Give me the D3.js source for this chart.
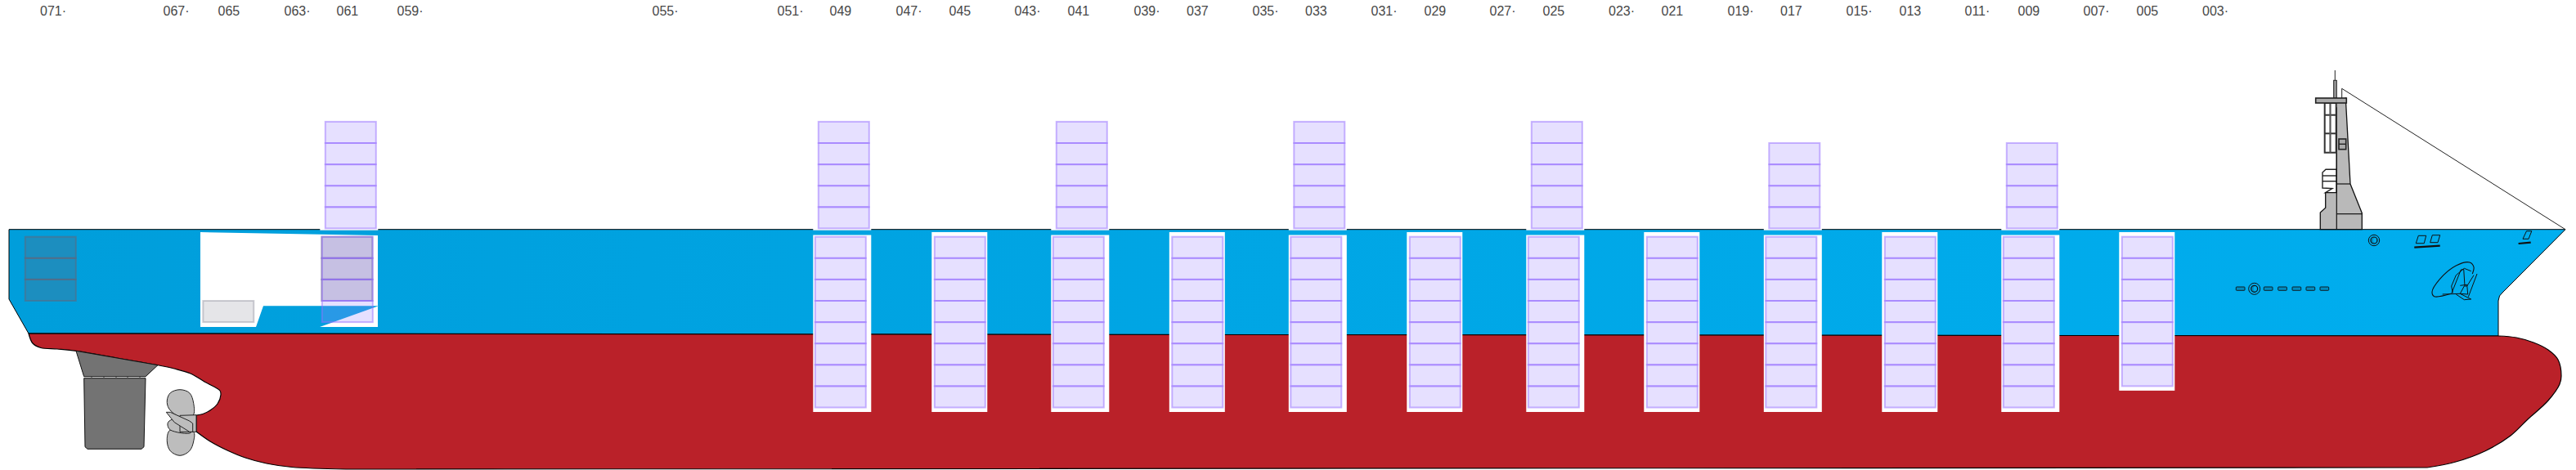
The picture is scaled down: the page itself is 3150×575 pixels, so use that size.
<!DOCTYPE html>
<html>
<head>
<meta charset="utf-8">
<script src="https://cdn.jsdelivr.net/npm/d3@7"></script>
<style>
    html, body { margin: 0; padding: 0; background: #fff; }
    svg { display: block; }
    .bay-axis text { font-family: "Liberation Sans", sans-serif; font-size: 16px; fill: #474747; }
</style>
</head>
<body>
<div id="ship"></div>
<script>
// bay labels along the top and where each one sits along the ship
let bayLabels = ["071·", "067·", "065", "063·", "061", "059·", "055·", "051·", "049", "047·", "045", "043·", "041", "039·", "037",
    "035·", "033", "031·", "029", "027·", "025", "023·", "021", "019·", "017", "015·", "013", "011·", "009", "007·", "005", "003·"];
let bayStart = [48.5, 199, 266, 347, 411, 485, 797, 950, 1014, 1095, 1160, 1240, 1305, 1386, 1450.5,
    1531, 1595.5, 1676, 1741, 1821, 1886, 1966.5, 2031, 2112, 2176.5, 2257, 2322, 2402, 2467, 2547, 2612, 2692.5];

// containers per bay
let deckBays = ["061", "049", "041", "033", "025", "017", "009"];
let deckTiers = [5, 5, 5, 5, 5, 4, 4];
let holdBays = ["061", "049", "045", "041", "037", "033", "029", "025", "021", "017", "013", "009", "005"];
let holdTiers = [4, 8, 8, 8, 8, 8, 8, 8, 8, 8, 8, 8, 7];
let greyBays = ["063", "063", "063", "061", "061", "061", "065"];
let greyTiers = [0, 1, 2, 0, 1, 2, 3];

// ship outlines, in drawing units along / down the ship
let upperHull = [[11, 280.7], [3137, 280.7], [3060, 358], [3056.5, 362], [3055, 368], [3055, 411], [35, 408], [11, 366]];
let lowerHull = [[35, 408], [35, 408], [40, 420], [50, 425.5], [70, 427], [93, 429.3], [143, 438], [193, 446.7], [213, 451], [233, 457], [250, 467],
    [269, 478], [270, 483], [266, 494], [257, 502], [248, 506.5], [240, 508], [240, 508], [240, 528], [240, 528], [257, 540], [278, 551], [300, 560],
    [326, 567], [357, 571.5], [423, 574], [423, 574], [2968, 572], [2968, 572], [3003, 565], [3039, 551.7], [3070, 533], [3091, 513], [3116, 490], [3130, 470],
    [3132, 460], [3128, 440], [3116, 428], [3098, 419], [3077, 413], [3055, 411], [3055, 411]];
let sternCut = [[245, 284], [462, 288], [462, 400], [391, 400], [463, 374.3], [322, 374.3], [313, 400], [245, 400]];
let skeg = [[93, 429.3], [143, 438], [193, 446.7], [178, 460.7], [102.7, 460.7]];
let rudder = [[102.7, 462.7], [178, 462.7], [176, 546.7], [173, 549.3], [107, 549.3], [104, 546.7]];
let rudderTicks = [112, 127, 142, 156, 171];
let bladeUp = [[220, 476.7], [231.7, 480.7], [236.7, 493.3], [236, 508.3], [220, 510], [206.7, 500], [204.3, 490], [208.3, 480.7]];
let bladeDown = [[236.7, 528.3], [236.7, 540], [231.7, 551.7], [220, 557.3], [208.3, 551.7], [204.3, 540], [207.3, 526.7], [220, 526]];
let bladeMid = [[206, 516], [205, 520], [208.3, 526], [233.3, 529.3], [228, 518], [212, 513]];
let hub = [[220, 508.3], [240, 507.7], [240, 528.3], [220, 528.3]];
let bladeFront = [[203.3, 504.3], [208.3, 504.3], [231.7, 515], [235.7, 518], [235.7, 528.3], [231.7, 528.3], [213.3, 516.7]];

let towerBody = [[2837.3, 280.7], [2837.3, 260], [2843.7, 254.3], [2843.7, 235.7], [2857.3, 235.7], [2857.3, 132], [2853.3, 126.7], [2868.3, 120],
    [2874, 225], [2888.3, 260.7], [2888.3, 280.7]];
let towerLines = [[[2857.3, 132], [2857.3, 280.7]], [[2857.3, 225], [2874, 225]], [[2857.3, 261.7], [2888.3, 261.7]]];
let wing = [[2843.7, 235.7], [2852, 230.5], [2840, 230], [2840, 211], [2844, 207.3], [2857.3, 207.3], [2857.3, 235.7]];
let wingBands = [215, 221.7];
let windowRows = [126, 140.7, 163.3, 186.7];
let windowCols = [2842.7, 2849.5, 2856.7];
let stay = [[2863.7, 120], [2863.7, 108.3], [3137, 280.7]];
let portholes = [2734.3, 2768.3, 2785.7, 2803, 2820, 2837];
let hatches = [
    [[2954.3, 297.7], [2957.3, 288.3], [2966.7, 288.3], [2964.3, 297.7]],
    [[2971.7, 296.7], [2974.3, 287.7], [2983.7, 287.7], [2981, 296.7]],
    [[3085, 292.3], [3089.5, 282.7], [3095.8, 282.7], [3092, 292.3]]
];
let hatchRails = [[[2952.3, 302.7], [2983.7, 300.7]], [[3079.6, 298], [3094.7, 296.7]]];
let anchorOval = [[2974, 357.3], [2983.3, 341.7], [3003.3, 325], [3020, 321], [3025, 326.7], [3023.3, 335]];
let anchorBase = [[2974, 357.3], [2976.7, 362.7], [2996.7, 359.3]];
let anchorLines = [
    [[3021.7, 331.7], [3013.3, 328.3], [3003.3, 336.7], [2997.7, 350], [2999.3, 358.3]],
    [[2997.7, 359.3], [3009.3, 330], [3012.7, 329.3], [3014, 350]],
    [[3029, 335], [3018.3, 363.3]],
    [[3025, 336.7], [3016.7, 350], [3013.3, 350], [3008.3, 359.3]],
    [[3008.3, 349.3], [3016.7, 348.3], [3017.7, 360], [3008.3, 359.3]],
    [[2986.7, 360], [3008.3, 359.3], [3021.7, 366], [3013.3, 366.7], [3003.3, 360]]
];

const width = 3150, height = 575;

let svg = d3.select("#ship").append("svg")
    .attr("width", width)
    .attr("height", height);

let x = d3.scaleLinear().domain([0, 3150]).range([0, width]);
let y = d3.scaleLinear().domain([0, 575]).range([0, height]);

// labels start left of the bay they name, the digits are 26.7 wide
let bayScale = d3.scaleOrdinal(bayLabels, bayStart.map(d => x(d)));
let bayCentre = function(bay) {
    return bayScale(bay) + 13.3;
};

// one tier step is the same above and below deck
const tierStep = 26.1;
let deckTierY = d3.scaleLinear().domain([0, 5]).range([y(279.4), y(279.4) - 5 * tierStep]);
let holdTierY = d3.scaleLinear().domain([0, 8]).range([y(289.7), y(289.7) + 8 * tierStep]);

let straight = d3.line().x(d => x(d[0])).y(d => y(d[1]));
let smooth = d3.line().x(d => x(d[0])).y(d => y(d[1])).curve(d3.curveCatmullRom.alpha(0.5));
let smoothClosed = d3.line().x(d => x(d[0])).y(d => y(d[1])).curve(d3.curveCatmullRomClosed.alpha(0.5));

let defs = svg.append("defs");
let grad = defs.append("linearGradient").attr("id", "hullBlue");
grad.append("stop").attr("offset", "0%").attr("stop-color", "#009edb");
grad.append("stop").attr("offset", "100%").attr("stop-color", "#00aeef");

// hull
svg.append("path")
    .attr("d", straight(upperHull) + "Z")
    .attr("fill", "url(#hullBlue)")
    .attr("stroke", "#000")
    .attr("stroke-width", 1);

svg.append("path")
    .attr("d", smooth(lowerHull) + "Z")
    .attr("fill", "#ba2129")
    .attr("stroke", "#000")
    .attr("stroke-width", 1.2);

svg.append("path")
    .attr("d", straight(sternCut) + "Z")
    .attr("fill", "#fff");

// rudder and skeg
svg.append("path").attr("d", straight(skeg) + "Z")
    .attr("fill", "#737373").attr("stroke", "#111").attr("stroke-width", 1);
svg.append("path").attr("d", straight(rudder) + "Z")
    .attr("fill", "#737373").attr("stroke", "#111").attr("stroke-width", 1);
svg.selectAll(".rudder-tick")
    .data(rudderTicks)
    .enter().append("line")
    .attr("class", "rudder-tick")
    .attr("x1", d => x(d)).attr("x2", d => x(d))
    .attr("y1", y(460.7)).attr("y2", y(462.7))
    .attr("stroke", "#444");

// propeller
[bladeUp, bladeDown, bladeMid].forEach(function(blade) {
    svg.append("path").attr("d", smoothClosed(blade))
        .attr("fill", "#bdbdbd").attr("stroke", "#222").attr("stroke-width", 1);
});
svg.append("path").attr("d", straight(hub) + "Z")
    .attr("fill", "#bdbdbd").attr("stroke", "#222").attr("stroke-width", 1);
svg.append("path").attr("d", straight(bladeFront) + "Z")
    .attr("fill", "#bdbdbd").attr("stroke", "#222").attr("stroke-width", 1);

// white cut outs behind the stacks
let holdData = holdBays.map((bay, i) => ({bay: bay, tiers: holdTiers[i], wide: deckBays.includes(bay)}));
let deckData = deckBays.map((bay, i) => ({bay: bay, tiers: deckTiers[i]}));

svg.selectAll(".hold-back")
    .data(holdData.filter(d => d.bay !== "061"))
    .enter().append("rect")
    .attr("class", "hold-back")
    .attr("x", d => bayCentre(d.bay) - (d.wide ? 33 : 34))
    .attr("width", d => d.wide ? 71 : 68)
    .attr("y", d => y(d.wide ? 287.5 : 284))
    .attr("height", d => holdTierY(d.tiers) - y(d.wide ? 287.5 : 284) + 5.5)
    .attr("fill", "#fff");

svg.selectAll(".deck-back")
    .data(deckData)
    .enter().append("rect")
    .attr("class", "deck-back")
    .attr("x", d => bayCentre(d.bay) - 33)
    .attr("width", 71)
    .attr("y", y(270))
    .attr("height", y(281.7) - y(270))
    .attr("fill", "#fff");

// grey containers
svg.selectAll(".grey-box")
    .data(greyBays.map((bay, i) => ({bay: bay, tier: greyTiers[i]})))
    .enter().append("rect")
    .attr("class", "grey-box")
    .attr("x", d => bayCentre(d.bay) - 31)
    .attr("width", 62)
    .attr("y", d => holdTierY(d.tier))
    .attr("height", tierStep)
    .attr("fill", "#646478")
    .attr("fill-opacity", d => d.bay === "065" ? 0.17 : 0.28)
    .attr("stroke", "#646478")
    .attr("stroke-opacity", d => d.bay === "065" ? 0.3 : 0.5)
    .attr("stroke-width", 2);

// purple containers
function drawStack(stack, tierY, offset) {
    let boxes = [];
    stack.forEach(function(s) {
        d3.range(s.tiers).forEach(t => boxes.push({bay: s.bay, tier: t}));
    });
    svg.append("g").selectAll("rect")
        .data(boxes)
        .enter().append("rect")
        .attr("x", d => bayCentre(d.bay) + offset - 31)
        .attr("width", 62)
        .attr("y", d => Math.min(tierY(d.tier), tierY(d.tier + 1)))
        .attr("height", tierStep)
        .attr("fill", "#a089ff")
        .attr("fill-opacity", 0.26)
        .attr("stroke", "#966eff")
        .attr("stroke-opacity", 0.5)
        .attr("stroke-width", 2);
}
drawStack(holdData, holdTierY, 0.5);
drawStack(deckData, deckTierY, 4.5);

// tower
svg.append("path").attr("d", straight(stay))
    .attr("fill", "none").attr("stroke", "#222").attr("stroke-width", 1);
svg.append("line")
    .attr("x1", x(2855.3)).attr("x2", x(2855.3)).attr("y1", y(86)).attr("y2", y(98.3))
    .attr("stroke", "#222");
svg.append("rect")
    .attr("x", x(2853.7)).attr("width", x(2857.3) - x(2853.7))
    .attr("y", y(98.3)).attr("height", y(120) - y(98.3))
    .attr("fill", "#999").attr("stroke", "#222").attr("stroke-width", 1);
svg.append("path").attr("d", straight(wing) + "Z")
    .attr("fill", "#fff").attr("stroke", "#222").attr("stroke-width", 1.4);
svg.selectAll(".wing-band")
    .data(wingBands)
    .enter().append("line")
    .attr("class", "wing-band")
    .attr("x1", x(2840)).attr("x2", x(2857.3))
    .attr("y1", d => y(d)).attr("y2", d => y(d))
    .attr("stroke", "#222").attr("stroke-width", 1.4);
svg.append("path").attr("d", straight(towerBody) + "Z")
    .attr("fill", "#b9b9b9").attr("stroke", "#111").attr("stroke-width", 1.3);
towerLines.forEach(function(l) {
    svg.append("path").attr("d", straight(l)).attr("stroke", "#111").attr("stroke-width", 1.2);
});
svg.append("rect")
    .attr("x", x(2842.7)).attr("width", x(2856.7) - x(2842.7))
    .attr("y", y(126)).attr("height", y(186.7) - y(126))
    .attr("fill", "#fff").attr("stroke", "#333").attr("stroke-width", 2);
windowRows.slice(1, -1).forEach(function(r) {
    svg.append("line").attr("x1", x(2842.7)).attr("x2", x(2856.7)).attr("y1", y(r)).attr("y2", y(r))
        .attr("stroke", "#333").attr("stroke-width", 2);
});
svg.append("line").attr("x1", x(windowCols[1])).attr("x2", x(windowCols[1])).attr("y1", y(126)).attr("y2", y(186.7))
    .attr("stroke", "#555").attr("stroke-width", 2.2);
svg.append("rect")
    .attr("x", x(2831.7)).attr("width", x(2869.3) - x(2831.7))
    .attr("y", y(120)).attr("height", y(126) - y(120))
    .attr("fill", "#aaa").attr("stroke", "#222").attr("stroke-width", 1.6);
svg.append("rect")
    .attr("x", x(2860)).attr("width", x(2868.7) - x(2860))
    .attr("y", y(170)).attr("height", y(182.7) - y(170))
    .attr("fill", "#aaa").attr("stroke", "#222").attr("stroke-width", 1.6);
svg.append("line").attr("x1", x(2860)).attr("x2", x(2868.7)).attr("y1", y(176.3)).attr("y2", y(176.3))
    .attr("stroke", "#222").attr("stroke-width", 1.4);

// deck details on the bow
svg.selectAll(".porthole")
    .data(portholes)
    .enter().append("rect")
    .attr("class", "porthole")
    .attr("x", d => x(d)).attr("width", 10.7)
    .attr("y", y(351)).attr("height", 4.3)
    .attr("rx", 0.8)
    .attr("fill", "#008cc0").attr("stroke", "#111").attr("stroke-width", 0.9);

[[2756.7, 353.3, 7, 4], [2903, 294, 6.7, 4]].forEach(function(c) {
    svg.append("circle").attr("cx", x(c[0])).attr("cy", y(c[1])).attr("r", c[2])
        .attr("fill", "none").attr("stroke", "#111").attr("stroke-width", 1);
    svg.append("circle").attr("cx", x(c[0])).attr("cy", y(c[1])).attr("r", c[3])
        .attr("fill", "#008cc0").attr("stroke", "#111").attr("stroke-width", 1.2);
    svg.append("ellipse").attr("cx", x(c[0]) + 1).attr("cy", y(c[1])).attr("rx", 2).attr("ry", 3)
        .attr("fill", "#00aeef").attr("stroke", "none");
});

hatches.forEach(function(h) {
    svg.append("path").attr("d", straight(h) + "Z")
        .attr("fill", "none").attr("stroke", "#111").attr("stroke-width", 1);
});
hatchRails.forEach(function(r) {
    svg.append("path").attr("d", straight(r)).attr("stroke", "#111").attr("stroke-width", 2.2);
});

svg.append("path").attr("d", smooth(anchorBase.slice().reverse().concat(anchorOval.slice(1))))
    .attr("fill", "none").attr("stroke", "#111").attr("stroke-width", 1.1);
anchorLines.forEach(function(l) {
    svg.append("path").attr("d", straight(l))
        .attr("fill", "none").attr("stroke", "#111").attr("stroke-width", 1);
});

// bay labels
let bayAxis = d3.axisTop(bayScale).tickValues(bayLabels).tickSize(0).tickPadding(0);
svg.append("g")
    .attr("class", "bay-axis")
    .attr("transform", "translate(0,19)")
    .call(bayAxis)
    .call(g => g.select(".domain").remove())
    .selectAll("text")
    .attr("y", 0)
    .attr("dy", 0)
    .style("text-anchor", "start");
</script>
</body>
</html>
